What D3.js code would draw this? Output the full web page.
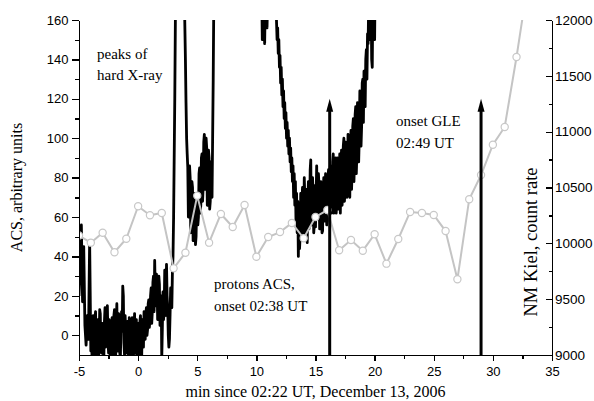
<!DOCTYPE html>
<meta charset="utf-8">
<style>
body { margin: 0; background: #fff; }
svg { display: block; background: #fff; }
.axis path, .axis line { fill: none; stroke: #000; stroke-width: 1.3px; shape-rendering: crispEdges; }
.axis text { font-family: "Liberation Sans", Arial, sans-serif; font-size: 13px; fill: #000; }
.axis.right text { font-size: 13.5px; }
.title, .note { font-family: "Liberation Serif", "Times New Roman", serif; fill: #000; }
.note { font-size: 15px; }
.acs { fill: none; stroke: #000; stroke-width: 2.8px; stroke-linejoin: round; }
.nm { fill: none; stroke: #c4c4c4; stroke-width: 2px; }
.nm-dot { fill: #fff; stroke: #c8c8c8; stroke-width: 1.2px; }
</style>
<body>
<script src="https://cdn.jsdelivr.net/npm/d3@7"></script>
<script>

// NM Kiel, one point per minute
var nmMinutes = [-5, -4, -3, -2, -1, 0, 1, 2, 3, 4, 5, 6, 7, 8, 9, 10, 11, 12, 13, 14,
                 15, 16, 17, 18, 19, 20, 21, 22, 23, 24, 25, 26, 27, 28, 29, 30, 31, 32, 33];
var nmCounts = [10070, 10006, 10095, 9920, 10041, 10332, 10251, 10272, 9776, 9916,
                10427, 10006, 10263, 10146, 10343, 9880, 10057, 10101, 10182, 10045,
                10236, 10298, 9938, 10030, 9934, 10081, 9818, 10039, 10281, 10272,
                10254, 10110, 9678, 10395, 10612, 10883, 11042, 11669, 12360];

// ACS count rate [minute, value] (values above 160 run off the top)
var acsData = [
  [-5.0, 20], [-4.9, 35], [-4.8, 56], [-4.7, 17], [-4.6, 45], [-4.5, 5], [-4.4, -5], [-4.3, 10], [-4.2, -2], [-4.1, 48],
  [-4.00, -8], [-3.95, 6], [-3.90, -12], [-3.85, 3], [-3.80, 10], [-3.75, -10], [-3.70, -6], [-3.65, 9], [-3.60, 12], [-3.55, -4],
  [-3.50, -12], [-3.45, 2], [-3.40, 8], [-3.35, -11], [-3.30, -4], [-3.25, 13], [-3.20, 11], [-3.15, -7], [-3.10, -9], [-3.05, 4],
  [-3.00, 6], [-2.95, -8], [-2.90, -12], [-2.85, 7], [-2.80, 14], [-2.75, -6], [-2.70, -3], [-2.65, 12], [-2.60, 15], [-2.55, -2],
  [-2.50, -9], [-2.45, 8], [-2.40, 5], [-2.35, -10], [-2.30, -12], [-2.25, 4], [-2.20, 9], [-2.15, -11], [-2.10, -6], [-2.05, 10],
  [-2.00, 13], [-1.95, -5], [-1.90, -12], [-1.85, 6], [-1.80, 16], [-1.75, -8], [-1.70, -5], [-1.65, 11], [-1.60, 8], [-1.55, -9],
  [-1.50, -12], [-1.45, 5], [-1.40, 12], [-1.35, 2], [-1.30, 25], [-1.25, 20], [-1.20, -4], [-1.15, -10], [-1.10, 10], [-1.05, 3],
  [-1.00, -9], [-0.95, -2], [-0.90, 7], [-0.85, -6], [-0.80, -12], [-0.75, 9], [-0.70, 4], [-0.65, -11], [-0.60, -6], [-0.55, 6],
  [-0.50, 9], [-0.45, -7], [-0.40, -12], [-0.35, 3], [-0.30, 11], [-0.25, -9], [-0.20, -3], [-0.15, 8], [-0.10, -12], [-0.05, -2],
  [0.00, 6], [0.05, -11], [0.10, -8], [0.15, 7], [0.20, 10], [0.25, -5], [0.30, -12], [0.35, 8], [0.40, 3], [0.45, -6],
  [0.50, 12], [0.55, 1], [0.60, -2], [0.65, 11], [0.70, 14], [0.75, 0], [0.80, 3], [0.85, 16], [0.90, 18], [0.95, 4],
  [1.00, 8], [1.05, 20], [1.10, 24], [1.15, 6], [1.20, 12], [1.25, 27], [1.30, 30], [1.35, 12], [1.40, 38], [1.45, 22],
  [1.50, 15], [1.55, 31], [1.60, 28], [1.65, 8], [1.70, 10], [1.75, 30], [1.80, 26], [1.85, 5], [1.90, 14], [1.95, 20],
  [2.00, -12], [2.05, 4], [2.10, 22], [2.15, 8], [2.20, 12], [2.25, 33], [2.30, 30], [2.35, 10], [2.40, 36], [2.45, 20],
  [2.50, 14], [2.55, 0], [2.60, -6], [2.65, -2], [2.70, 10], [2.75, 24], [2.80, 18], [2.85, 14], [2.90, 32], [2.95, 40],
  [3.0, 60], [3.1, 120], [3.2, 200], [3.4, 230], [3.6, 210], [3.8, 220], [3.9, 175],
  [4.00, 140], [4.05, 118], [4.10, 100], [4.15, 92], [4.20, 85], [4.25, 60], [4.30, 70], [4.35, 86], [4.40, 80], [4.45, 52],
  [4.50, 62], [4.55, 78], [4.60, 75], [4.65, 48], [4.70, 55], [4.75, 72], [4.80, 68], [4.85, 46], [4.90, 50], [4.95, 66],
  [5.00, 72], [5.05, 56], [5.10, 60], [5.15, 82], [5.20, 85], [5.25, 62], [5.30, 66], [5.35, 90], [5.40, 92], [5.45, 68],
  [5.50, 75], [5.55, 98], [5.60, 102], [5.65, 74], [5.70, 80], [5.75, 100], [5.80, 95], [5.85, 66], [5.90, 72], [5.95, 94],
  [6.00, 90], [6.05, 64], [6.10, 68], [6.15, 88], [6.20, 85], [6.25, 70], [6.30, 100], [6.35, 130], [6.40, 170],
  [6.5, 220], [7.0, 240], [8.0, 260], [9.0, 250], [10.0, 230], [10.4, 200], [10.5, 150], [10.6, 175],
  [10.7, 148], [10.8, 190], [10.9, 156], [11.0, 185], [11.1, 165], [11.2, 200], [11.3, 170], [11.4, 175], [11.5, 190], [11.6, 168],
  [11.70, 160], [11.75, 150], [11.80, 156], [11.85, 143], [11.90, 150], [11.95, 136], [12.00, 142], [12.05, 128], [12.10, 136], [12.15, 122],
  [12.20, 130], [12.25, 116], [12.30, 124], [12.35, 110], [12.40, 118], [12.45, 105], [12.50, 113], [12.55, 100], [12.60, 108], [12.65, 96],
  [12.70, 104], [12.75, 92], [12.80, 100], [12.85, 88], [12.90, 95], [12.95, 83], [13.00, 90], [13.05, 78], [13.10, 86], [13.15, 70],
  [13.20, 82], [13.25, 66], [13.30, 78], [13.35, 58], [13.40, 72], [13.45, 52], [13.50, 68], [13.55, 40],
  [13.60, 64], [13.65, 44], [13.70, 50], [13.75, 72], [13.80, 48], [13.85, 66], [13.90, 75], [13.95, 52], [14.00, 55], [14.05, 80],
  [14.10, 70], [14.15, 48], [14.20, 50], [14.25, 74], [14.30, 47], [14.35, 68], [14.40, 78], [14.45, 54], [14.50, 60], [14.55, 84],
  [14.60, 89], [14.65, 56], [14.70, 58], [14.75, 80], [14.80, 72], [14.85, 52], [14.90, 56], [14.95, 76], [15.00, 55], [15.05, 70],
  [15.10, 86], [15.15, 60], [15.20, 62], [15.25, 82], [15.30, 75], [15.35, 54], [15.40, 58], [15.45, 78], [15.50, 68], [15.55, 52],
  [15.60, 53], [15.65, 74], [15.70, 80], [15.75, 58], [15.80, 60], [15.85, 82], [15.90, 72], [15.95, 56], [16.00, 58], [16.05, 78],
  [16.10, 84], [16.15, 60], [16.20, 62], [16.25, 86], [16.30, 78], [16.35, 62], [16.40, 66], [16.45, 88], [16.50, 92], [16.55, 62],
  [16.60, 64], [16.65, 86], [16.70, 90], [16.75, 62], [16.80, 68], [16.85, 90], [16.90, 82], [16.95, 64], [17.00, 72], [17.05, 92],
  [17.10, 62], [17.15, 80], [17.20, 94], [17.25, 66], [17.30, 74], [17.35, 96], [17.40, 100], [17.45, 68], [17.50, 78], [17.55, 98],
  [17.60, 96], [17.65, 70], [17.70, 80], [17.75, 102], [17.80, 88], [17.85, 74], [17.90, 70], [17.95, 96], [18.00, 104], [18.05, 74],
  [18.10, 84], [18.15, 106], [18.20, 110], [18.25, 78], [18.30, 88], [18.35, 112], [18.40, 116], [18.45, 82], [18.50, 92], [18.55, 118],
  [18.60, 113], [18.65, 88], [18.70, 100], [18.75, 124], [18.80, 122], [18.85, 96], [18.90, 106], [18.95, 128], [19.00, 130], [19.05, 108],
  [19.10, 134], [19.15, 120], [19.20, 116], [19.25, 140], [19.30, 145], [19.35, 130], [19.40, 153], [19.45, 148], [19.50, 170], [19.55, 150],
  [19.60, 158], [19.65, 180], [19.70, 175], [19.75, 140], [19.80, 136], [19.85, 170], [19.90, 168], [19.95, 150], [20.00, 150], [20.05, 185],
  [20.10, 180], [20.15, 200]
];

// onset markers (minute) and the height the arrows reach
var arrowMinutes = [16.2, 29];
var arrowTop = 120;

var xTicks = [-5, 0, 5, 10, 15, 20, 25, 30, 35];
var xMinor = [-2.5, 2.5, 7.5, 12.5, 17.5, 22.5, 27.5, 32.5];
var leftTicks = [0, 20, 40, 60, 80, 100, 120, 140, 160];
var leftMinor = [10, 30, 50, 70, 90, 110, 130, 150];
var rightTicks = [9000, 9500, 10000, 10500, 11000, 11500, 12000];
var rightMinor = [9250, 9750, 10250, 10750, 11250, 11750];

var W = 594, H = 401;
var plot = {left: 79, right: 552, top: 20, bottom: 355};

var x = d3.scaleLinear().domain([-5, 35]).range([plot.left, plot.right]);
var yL = d3.scaleLinear().domain([-10, 160]).range([plot.bottom, plot.top]);
var yR = d3.scaleLinear().domain([9000, 12000]).range([plot.bottom, plot.top]);

var svg = d3.select("body").append("svg")
  .attr("width", W)
  .attr("height", H);

svg.append("clipPath").attr("id", "clip")
  .append("rect")
  .attr("x", plot.left).attr("y", plot.top)
  .attr("width", plot.right - plot.left)
  .attr("height", plot.bottom - plot.top);

// ACS trace
var acsLine = d3.line()
  .x(function(d) { return x(d[0]); })
  .y(function(d) { return yL(d[1]); });

svg.append("path")
  .datum(acsData)
  .attr("class", "acs")
  .attr("clip-path", "url(#clip)")
  .attr("d", acsLine);

// NM Kiel line + open circles
var nm = nmMinutes.map(function(m, i) { return {m: m, c: nmCounts[i]}; });

var nmLine = d3.line()
  .x(function(d) { return x(d.m); })
  .y(function(d) { return yR(d.c); });

var nmG = svg.append("g").attr("clip-path", "url(#clip)");
nmG.append("path")
  .datum(nm)
  .attr("class", "nm")
  .attr("d", nmLine);
nmG.selectAll(".nm-dot")
  .data(nm)
  .enter().append("circle")
  .attr("class", "nm-dot")
  .attr("cx", function(d) { return x(d.m); })
  .attr("cy", function(d) { return yR(d.c); })
  .attr("r", 3.6);

// onset arrows
var arr = svg.selectAll(".arrow")
  .data(arrowMinutes)
  .enter().append("g")
  .attr("class", "arrow");
arr.append("line")
  .attr("x1", function(d) { return x(d); })
  .attr("x2", function(d) { return x(d); })
  .attr("y1", yL(-10))
  .attr("y2", yL(arrowTop) + 10)
  .attr("stroke", "#000")
  .attr("stroke-width", 3);
arr.append("path")
  .attr("d", function(d) {
    var cx = x(d), ty = yL(arrowTop);
    return "M" + cx + "," + ty + "L" + (cx + 3.5) + "," + (ty + 13) + "L" + (cx - 3.5) + "," + (ty + 13) + "Z";
  })
  .attr("fill", "#000");

// axes
function noLabel() { return ""; }

svg.append("g")
  .attr("class", "x axis")
  .attr("transform", "translate(0," + plot.bottom + ")")
  .call(d3.axisBottom(x).tickValues(xTicks).tickSize(6).tickSizeOuter(0).tickPadding(6));
svg.append("g")
  .attr("class", "x axis")
  .attr("transform", "translate(0," + plot.bottom + ")")
  .call(d3.axisBottom(x).tickValues(xMinor).tickSize(3.5).tickSizeOuter(0).tickFormat(noLabel));

svg.append("g")
  .attr("class", "y axis")
  .attr("transform", "translate(" + plot.left + ",0)")
  .call(d3.axisLeft(yL).tickValues(leftTicks).tickSize(7).tickSizeOuter(0).tickPadding(3.5));
svg.append("g")
  .attr("class", "y axis")
  .attr("transform", "translate(" + plot.left + ",0)")
  .call(d3.axisLeft(yL).tickValues(leftMinor).tickSize(4).tickSizeOuter(0).tickFormat(noLabel));

svg.append("g")
  .attr("class", "right axis")
  .attr("transform", "translate(" + plot.right + ",0)")
  .call(d3.axisRight(yR).tickValues(rightTicks).tickFormat(d3.format("d"))
    .tickSizeInner(-6.5).tickSizeOuter(0).tickPadding(3));
svg.append("g")
  .attr("class", "right axis")
  .attr("transform", "translate(" + plot.right + ",0)")
  .call(d3.axisRight(yR).tickValues(rightMinor).tickSizeInner(-3.5).tickSizeOuter(0).tickFormat(noLabel));

svg.selectAll(".axis text").text(function() {
  return this.textContent.replace("\u2212", "-");
});

// axis titles
svg.append("text")
  .attr("class", "title")
  .attr("transform", "translate(21.5," + ((plot.top + plot.bottom) / 2) + ") rotate(-90)")
  .attr("text-anchor", "middle")
  .style("font-size", "16px")
  .text("ACS, arbitrary units");

svg.append("text")
  .attr("class", "title")
  .attr("transform", "translate(537,242) rotate(-90)")
  .attr("text-anchor", "middle")
  .style("font-size", "18.5px")
  .text("NM Kiel, count rate");

svg.append("text")
  .attr("class", "title")
  .attr("x", (plot.left + plot.right) / 2)
  .attr("y", 397)
  .attr("text-anchor", "middle")
  .style("font-size", "16px")
  .text("min since 02:22 UT, December 13, 2006");

// annotations
function note(px, py, lines) {
  var t = svg.append("text").attr("class", "note");
  lines.forEach(function(s, i) {
    t.append("tspan").attr("x", px).attr("y", py + i * 21.5).text(s);
  });
}
note(97, 58.5, ["peaks of", "hard X-ray"]);
note(214, 289, ["protons ACS,", "onset 02:38 UT"]);
note(396, 126, ["onset GLE", "02:49 UT"]);

</script>
